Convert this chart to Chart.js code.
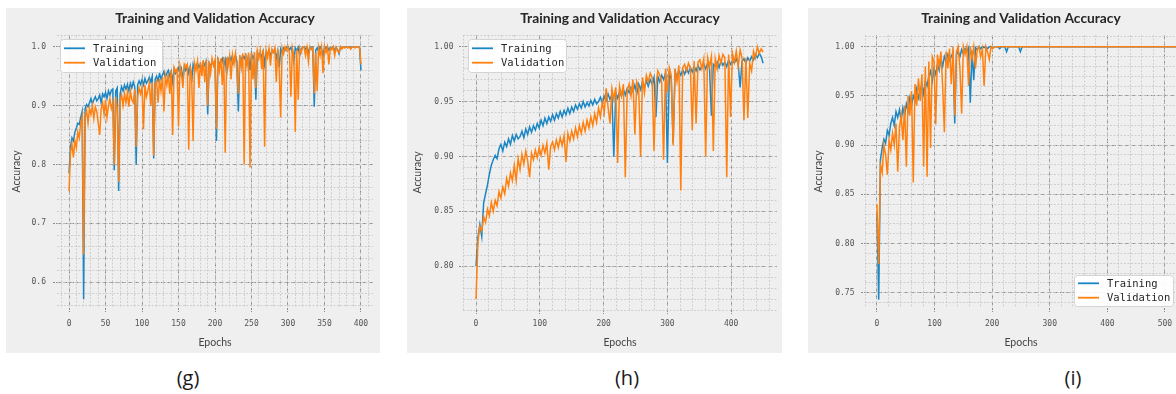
<!DOCTYPE html>
<html>
<head>
<meta charset="utf-8">
<script src="https://cdn.jsdelivr.net/npm/chart.js@4.4.1/dist/chart.umd.min.js"></script>
<style>
  html, body { margin: 0; padding: 0; background: #fff; width: 1176px; height: 394px; overflow: hidden; position: relative; }
  .panel { position: absolute; top: 8px; height: 345px; background: #efefef; overflow: hidden; }
  .panel canvas { position: absolute; left: 0; top: 0; }
  .caption { position: absolute; top: 364px; font-family: "Open Sans", sans-serif; font-size: 20px; line-height: 28px; color: #1a1a1a; transform: translateX(-50%); }
</style>
</head>
<body>
<div class="panel" style="left:6px;width:374px"><canvas id="chartG" width="374" height="345"></canvas></div>
<div class="panel" style="left:407px;width:375px"><canvas id="chartH" width="375" height="345"></canvas></div>
<div class="panel" style="left:808px;width:368px"><canvas id="chartI" width="376" height="345"></canvas></div>
<div class="caption" style="left:188px">(g)</div>
<div class="caption" style="left:627px">(h)</div>
<div class="caption" style="left:1073px">(i)</div>

<script>
// (g) accuracy logged every 2 epochs, 0..400
const gStep = 2;
const gTrain = [
  0.785, 0.830, 0.845, 0.840, 0.855, 0.862, 0.870, 0.868, 0.880, 0.890,
  0.571, 0.895, 0.902, 0.898, 0.905, 0.912, 0.903, 0.910, 0.915, 0.908,
  0.912, 0.918, 0.905, 0.920, 0.915, 0.922, 0.912, 0.925, 0.918, 0.926,
  0.928, 0.790, 0.925, 0.930, 0.755, 0.920, 0.932, 0.925, 0.935, 0.928,
  0.936, 0.925, 0.938, 0.930, 0.940, 0.932, 0.800, 0.935, 0.942, 0.936,
  0.944, 0.935, 0.946, 0.938, 0.942, 0.948, 0.940, 0.950, 0.810, 0.945,
  0.950, 0.942, 0.955, 0.945, 0.952, 0.958, 0.948, 0.955, 0.960, 0.950,
  0.958, 0.940, 0.962, 0.955, 0.960, 0.965, 0.952, 0.962, 0.945, 0.966,
  0.960, 0.968, 0.955, 0.966, 0.940, 0.970, 0.962, 0.968, 0.972, 0.965,
  0.970, 0.962, 0.974, 0.968, 0.975, 0.885, 0.972, 0.965, 0.976, 0.970,
  0.975, 0.840, 0.978, 0.970, 0.976, 0.980, 0.968, 0.978, 0.955, 0.980,
  0.975, 0.982, 0.972, 0.980, 0.985, 0.975, 0.890, 0.982, 0.978, 0.985,
  0.980, 0.986, 0.975, 0.984, 0.960, 0.988, 0.980, 0.986, 0.910, 0.990,
  0.985, 0.990, 0.982, 0.992, 0.970, 0.990, 0.988, 0.994, 0.985, 0.992,
  0.990, 0.995, 0.980, 0.993, 0.965, 0.996, 0.990, 0.998, 0.994, 0.999,
  1.000, 0.995, 0.999, 0.990, 0.975, 0.998, 0.993, 0.999, 0.985, 0.996,
  0.999, 1.000, 0.996, 0.999, 0.990, 1.000, 0.997, 0.999, 0.898, 0.994,
  0.998, 0.992, 1.000, 0.996, 0.985, 0.999, 0.997, 1.000, 0.994, 0.999,
  0.997, 1.000, 0.993, 0.999, 0.995, 0.988, 1.000, 0.998, 1.000, 0.999,
  1.000, 0.999, 1.000, 0.998, 1.000, 1.000, 0.999, 1.000, 1.000, 0.999,
  0.960
];
const gVal = [
  0.755, 0.820, 0.835, 0.812, 0.840, 0.828, 0.855, 0.845, 0.870, 0.882,
  0.647, 0.880, 0.892, 0.870, 0.895, 0.885, 0.900, 0.878, 0.898, 0.890,
  0.870, 0.850, 0.895, 0.905, 0.885, 0.910, 0.880, 0.900, 0.912, 0.895,
  0.905, 0.800, 0.915, 0.895, 0.770, 0.908, 0.918, 0.900, 0.920, 0.905,
  0.922, 0.898, 0.925, 0.910, 0.905, 0.928, 0.830, 0.915, 0.930, 0.920,
  0.932, 0.860, 0.935, 0.915, 0.925, 0.938, 0.900, 0.940, 0.815, 0.935,
  0.942, 0.905, 0.945, 0.925, 0.948, 0.890, 0.950, 0.935, 0.955, 0.920,
  0.960, 0.850, 0.965, 0.958, 0.962, 0.865, 0.968, 0.955, 0.930, 0.970,
  0.965, 0.970, 0.825, 0.968, 0.950, 0.840, 0.972, 0.960, 0.975, 0.930,
  0.974, 0.950, 0.977, 0.940, 0.978, 0.900, 0.975, 0.955, 0.980, 0.968,
  0.978, 0.860, 0.982, 0.960, 0.980, 0.935, 0.983, 0.820, 0.982, 0.968,
  0.984, 0.945, 0.986, 0.970, 0.988, 0.958, 0.920, 0.986, 0.965, 0.989,
  0.800, 0.989, 0.968, 0.990, 0.795, 0.990, 0.945, 0.991, 0.930, 0.993,
  0.980, 0.994, 0.962, 0.995, 0.830, 0.994, 0.982, 0.997, 0.968, 0.996,
  0.990, 0.998, 0.940, 0.996, 0.960, 0.880, 0.998, 0.988, 1.000, 0.994,
  1.000, 0.990, 0.915, 0.998, 0.985, 0.855, 0.995, 0.910, 0.998, 0.990,
  0.999, 1.000, 0.985, 0.999, 0.975, 1.000, 0.995, 0.998, 0.920, 0.990,
  0.925, 0.998, 0.985, 1.000, 0.955, 0.999, 0.990, 1.000, 0.970, 0.998,
  0.995, 1.000, 0.985, 0.999, 0.993, 0.990, 1.000, 0.996, 1.000, 0.998,
  1.000, 0.998, 1.000, 0.996, 1.000, 1.000, 0.998, 1.000, 1.000, 0.999,
  0.970
];

// (h) accuracy logged every 3 epochs, 0..450
const hStep = 3;
const hTrain = [
  0.800, 0.826, 0.838, 0.827, 0.858, 0.866, 0.874, 0.884, 0.892, 0.897,
  0.901, 0.898, 0.907, 0.911, 0.905, 0.913, 0.909, 0.916, 0.911, 0.919,
  0.914, 0.920, 0.916, 0.918, 0.923, 0.917, 0.925, 0.920, 0.927, 0.922,
  0.928, 0.924, 0.930, 0.926, 0.933, 0.928, 0.935, 0.930, 0.936, 0.932,
  0.938, 0.933, 0.939, 0.935, 0.941, 0.936, 0.942, 0.938, 0.944, 0.939,
  0.945, 0.941, 0.947, 0.943, 0.948, 0.944, 0.950, 0.945, 0.949, 0.946,
  0.951, 0.947, 0.952, 0.948, 0.950, 0.954, 0.949, 0.955, 0.951, 0.957,
  0.952, 0.956, 0.900, 0.958, 0.953, 0.959, 0.955, 0.961, 0.956, 0.962,
  0.958, 0.963, 0.959, 0.965, 0.957, 0.966, 0.961, 0.968, 0.963, 0.969,
  0.964, 0.970, 0.966, 0.972, 0.936, 0.973, 0.968, 0.974, 0.970, 0.976,
  0.894, 0.975, 0.971, 0.912, 0.977, 0.973, 0.978, 0.974, 0.979, 0.975,
  0.980, 0.976, 0.981, 0.977, 0.982, 0.978, 0.983, 0.979, 0.982, 0.984,
  0.980, 0.985, 0.981, 0.937, 0.984, 0.982, 0.986, 0.981, 0.987, 0.983,
  0.986, 0.982, 0.988, 0.984, 0.987, 0.985, 0.989, 0.984, 0.963, 0.987,
  0.989, 0.985, 0.990, 0.987, 0.991, 0.988, 0.993, 0.990, 0.994, 0.991,
  0.985
];
const hVal = [
  0.770, 0.822, 0.836, 0.832, 0.845, 0.840, 0.852, 0.846, 0.858, 0.850,
  0.860, 0.855, 0.868, 0.862, 0.872, 0.866, 0.880, 0.873, 0.885, 0.878,
  0.892, 0.878, 0.898, 0.888, 0.902, 0.893, 0.905, 0.896, 0.881, 0.903,
  0.897, 0.906, 0.899, 0.908, 0.901, 0.910, 0.903, 0.912, 0.888, 0.909,
  0.913, 0.906, 0.915, 0.908, 0.917, 0.910, 0.919, 0.895, 0.921, 0.914,
  0.923, 0.916, 0.926, 0.918, 0.928, 0.921, 0.931, 0.923, 0.933, 0.926,
  0.936, 0.928, 0.939, 0.931, 0.944, 0.936, 0.950, 0.940, 0.962, 0.945,
  0.930, 0.962, 0.952, 0.963, 0.894, 0.964, 0.955, 0.966, 0.881, 0.960,
  0.966, 0.955, 0.970, 0.920, 0.968, 0.962, 0.900, 0.972, 0.958, 0.974,
  0.968, 0.976, 0.972, 0.905, 0.965, 0.978, 0.974, 0.968, 0.897, 0.980,
  0.958, 0.981, 0.974, 0.910, 0.980, 0.968, 0.983, 0.869, 0.981, 0.984,
  0.978, 0.985, 0.981, 0.924, 0.987, 0.930, 0.986, 0.988, 0.980, 0.989,
  0.900, 0.990, 0.982, 0.991, 0.905, 0.989, 0.980, 0.992, 0.985, 0.993,
  0.990, 0.881, 0.993, 0.936, 0.994, 0.986, 0.996, 0.982, 0.997, 0.990,
  0.933, 0.990, 0.935, 0.985, 0.978, 0.996, 0.990, 1.000, 0.994, 0.998,
  0.995
];

// (i) accuracy logged every 3 epochs, 0..519
const iStep = 3;
const iTrain = [
  0.830, 0.743, 0.885, 0.897, 0.906, 0.902, 0.915, 0.910, 0.922, 0.928,
  0.920, 0.934, 0.928, 0.936, 0.925, 0.938, 0.930, 0.942, 0.935, 0.948,
  0.940, 0.950, 0.945, 0.957, 0.948, 0.955, 0.962, 0.952, 0.965, 0.960,
  0.970, 0.975, 0.965, 0.978, 0.972, 0.982, 0.976, 0.988, 0.980, 0.990,
  0.985, 0.992, 0.986, 0.990, 0.994, 0.922, 0.992, 0.995, 0.990, 0.997,
  0.993, 0.998, 0.995, 0.999, 0.943, 0.996, 0.966, 0.999, 0.997, 1.000,
  0.998, 1.000, 0.999, 1.000, 0.998, 1.000, 1.000, 0.999, 1.000, 1.000,
  1.000, 0.998, 1.000, 1.000, 1.000, 0.995, 1.000, 1.000, 1.000, 1.000,
  1.000, 1.000, 1.000, 0.995, 1.000, 1.000, 1.000, 1.000, 1.000, 1.000,
  1.000, 1.000, 1.000, 1.000, 1.000, 1.000, 1.000, 1.000, 1.000, 1.000,
  1.000, 1.000, 1.000, 1.000, 1.000, 1.000, 1.000, 1.000, 1.000, 1.000,
  1.000, 1.000, 1.000, 1.000, 1.000, 1.000, 1.000, 1.000, 1.000, 1.000,
  1.000, 1.000, 1.000, 1.000, 1.000, 1.000, 1.000, 1.000, 1.000, 1.000,
  1.000, 1.000, 1.000, 1.000, 1.000, 1.000, 1.000, 1.000, 1.000, 1.000,
  1.000, 1.000, 1.000, 1.000, 1.000, 1.000, 1.000, 1.000, 1.000, 1.000,
  1.000, 1.000, 1.000, 1.000, 1.000, 1.000, 1.000, 1.000, 1.000, 1.000,
  1.000, 1.000, 1.000, 1.000, 1.000, 1.000, 1.000, 1.000, 1.000, 1.000,
  1.000, 1.000, 1.000, 1.000
];
const iVal = [
  0.840, 0.779, 0.880, 0.872, 0.900, 0.890, 0.870, 0.905, 0.895, 0.912,
  0.900, 0.922, 0.873, 0.918, 0.930, 0.905, 0.940, 0.878, 0.950, 0.930,
  0.955, 0.862, 0.962, 0.940, 0.968, 0.945, 0.972, 0.878, 0.980, 0.868,
  0.985, 0.897, 0.990, 0.985, 0.921, 0.992, 0.980, 0.995, 0.960, 0.913,
  0.995, 0.978, 0.998, 0.962, 1.000, 0.930, 0.995, 1.000, 0.978, 0.932,
  1.000, 0.992, 1.000, 0.960, 1.000, 0.988, 1.000, 0.978, 0.997, 1.000,
  0.990, 0.998, 0.960, 1.000, 0.995, 0.987, 1.000, 0.998, 1.000, 1.000,
  1.000, 1.000, 1.000, 1.000, 1.000, 1.000, 1.000, 1.000, 1.000, 1.000,
  1.000, 1.000, 1.000, 1.000, 1.000, 1.000, 1.000, 1.000, 1.000, 1.000,
  1.000, 1.000, 1.000, 1.000, 1.000, 1.000, 1.000, 1.000, 1.000, 1.000,
  1.000, 1.000, 1.000, 1.000, 1.000, 1.000, 1.000, 1.000, 1.000, 1.000,
  1.000, 1.000, 1.000, 1.000, 1.000, 1.000, 1.000, 1.000, 1.000, 1.000,
  1.000, 1.000, 1.000, 1.000, 1.000, 1.000, 1.000, 1.000, 1.000, 1.000,
  1.000, 1.000, 1.000, 1.000, 1.000, 1.000, 1.000, 1.000, 1.000, 1.000,
  1.000, 1.000, 1.000, 1.000, 1.000, 1.000, 1.000, 1.000, 1.000, 1.000,
  1.000, 1.000, 1.000, 1.000, 1.000, 1.000, 1.000, 1.000, 1.000, 1.000,
  1.000, 1.000, 1.000, 1.000, 1.000, 1.000, 1.000, 1.000, 1.000, 1.000,
  1.000, 1.000, 1.000, 1.000
];

// tick values per panel
const gXTicks = [0, 50, 100, 150, 200, 250, 300, 350, 400];
const gYTicks = [0.6, 0.7, 0.8, 0.9, 1.0];
const hXTicks = [0, 100, 200, 300, 400];
const hYTicks = [0.80, 0.85, 0.90, 0.95, 1.00];
const iXTicks = [0, 100, 200, 300, 400, 500];
const iYTicks = [0.75, 0.80, 0.85, 0.90, 0.95, 1.00];

const seriesLabels = ['Training', 'Validation'];
const titleText = 'Training and Validation Accuracy';

const BLUE = '#1b86c4';
const ORANGE = '#ff800e';
const MAJOR_GRID = '#8c8c8c';
const MINOR_GRID = '#c6c6c6';
const TICK_FONT = { family: 'DejaVu Sans Mono', size: 8 };
const AXIS_FONT = { family: 'Lato', size: 10.5 };

function toPoints(values, step) {
    return values.map((v, i) => ({ x: i * step, y: v }));
}

const panelTitle = {
    id: 'panelTitle',
    afterDraw(chart) {
        const { ctx, chartArea } = chart;
        ctx.save();
        ctx.font = '700 13.8px Lato';
        ctx.fillStyle = '#262626';
        ctx.textAlign = 'center';
        ctx.textBaseline = 'middle';
        ctx.fillText(titleText, (chartArea.left + chartArea.right) / 2, 10.5);
        ctx.restore();
    }
};

const boxLegend = {
    id: 'boxLegend',
    afterDraw(chart, args, opts) {
        const { ctx, chartArea } = chart;
        const w = opts.w, h = opts.h;
        const left = opts.corner === 'bottom-right' ? chartArea.right - opts.dx - w : chartArea.left + opts.dx;
        const top = opts.corner === 'bottom-right' ? chartArea.bottom - opts.dy - h : chartArea.top + opts.dy;

        ctx.save();
        ctx.fillStyle = 'rgba(255,255,255,0.9)';
        ctx.strokeStyle = '#d4d4d4';
        ctx.lineWidth = 1;
        ctx.beginPath();
        ctx.roundRect(Math.round(left) + 0.5, Math.round(top) + 0.5, w, h, 3);
        ctx.fill();
        ctx.stroke();

        ctx.font = '10.5px "DejaVu Sans Mono"';
        ctx.textBaseline = 'middle';
        chart.data.datasets.forEach((ds, i) => {
            const y = top + h / 2 + (i === 0 ? -7.2 : 7.2);
            ctx.strokeStyle = ds.borderColor;
            ctx.lineWidth = 1.8;
            ctx.beginPath();
            ctx.moveTo(left + 4, y);
            ctx.lineTo(left + 25, y);
            ctx.stroke();
            ctx.fillStyle = '#262626';
            ctx.fillText(ds.label, left + 33, y + 0.5);
        });
        ctx.restore();
    }
};

function buildScales(p) {
    return {
        x: {
            type: 'linear',
            min: p.xMin,
            max: p.xMax,
            afterBuildTicks: s => { s.ticks = p.xTicks.map(v => ({ value: v })); },
            afterFit: s => { s.height = p.xAxisH; },
            ticks: { font: TICK_FONT, color: '#555', padding: p.xPad, autoSkip: false, maxRotation: 0, callback: v => String(v) },
            grid: { color: MAJOR_GRID, lineWidth: 1, tickLength: 4, tickColor: MAJOR_GRID, tickBorderDash: [2, 1] },
            border: { display: false, dash: [4, 2.5] },
            title: { display: true, text: 'Epochs', font: AXIS_FONT, color: '#444', padding: { top: 4, bottom: 4 } }
        },
        y: {
            type: 'linear',
            min: p.yMin,
            max: p.yMax,
            afterBuildTicks: s => { s.ticks = p.yTicks.map(v => ({ value: v })); },
            afterFit: s => { s.width = p.yAxisW; },
            ticks: { font: TICK_FONT, color: '#555', padding: p.yPad, autoSkip: false, callback: v => v.toFixed(p.yDigits) },
            grid: { color: MAJOR_GRID, lineWidth: 1, tickLength: 4, tickColor: MAJOR_GRID, tickBorderDash: [2, 1] },
            border: { display: false, dash: [4, 2.5] },
            title: { display: true, text: 'Accuracy', font: AXIS_FONT, color: '#444', padding: { top: 4, bottom: 4 } }
        },
        xMinor: {
            type: 'linear',
            position: 'bottom',
            min: p.xMin,
            max: p.xMax,
            afterFit: s => { s.height = 0; },
            ticks: { display: false, stepSize: p.xMinorStep, includeBounds: false },
            grid: { color: MINOR_GRID, lineWidth: 0.8, drawTicks: false },
            border: { display: false, dash: [2, 1.5] }
        },
        yMinor: {
            type: 'linear',
            position: 'left',
            min: p.yMin,
            max: p.yMax,
            afterFit: s => { s.width = 0; },
            ticks: { display: false, stepSize: p.yMinorStep, includeBounds: false },
            grid: { color: MINOR_GRID, lineWidth: 0.8, drawTicks: false },
            border: { display: false, dash: [2, 1.5] }
        }
    };
}

function createAccuracyChart(canvasId, train, val, step, p) {
    const ctx = document.getElementById(canvasId).getContext('2d');
    new Chart(ctx, {
        type: 'line',
        data: {
            datasets: [
                { label: seriesLabels[0], data: toPoints(train, step), borderColor: BLUE, order: 1 },
                { label: seriesLabels[1], data: toPoints(val, step), borderColor: ORANGE, order: 0 }
            ]
        },
        options: {
            responsive: false,
            animation: false,
            layout: { padding: { top: 27, right: p.rightPad, left: 0, bottom: 0 } },
            elements: {
                point: { radius: 0 },
                line: { tension: 0, borderWidth: 1.5, fill: false }
            },
            scales: buildScales(p),
            plugins: {
                legend: { display: false },
                tooltip: { enabled: false },
                boxLegend: p.legend
            }
        },
        plugins: [panelTitle, boxLegend]
    });
}

createAccuracyChart('chartG', gTrain, gVal, gStep, {
    xMin: -16.5, xMax: 416.5, yMin: 0.556, yMax: 1.02,
    xTicks: gXTicks, yTicks: gYTicks, yDigits: 1,
    xMinorStep: 10, yMinorStep: 0.02,
    yAxisW: 51, xAxisH: 45, rightPad: 7, xPad: 7, yPad: 7,
    legend: { corner: 'top-left', dx: 3, dy: 4, w: 102, h: 33 }
});

createAccuracyChart('chartH', hTrain, hVal, hStep, {
    xMin: -20.4, xMax: 471.8, yMin: 0.76, yMax: 1.0107,
    xTicks: hXTicks, yTicks: hYTicks, yDigits: 2,
    xMinorStep: 20, yMinorStep: 0.01,
    yAxisW: 56, xAxisH: 43, rightPad: 5, xPad: 5, yPad: 5.5,
    legend: { corner: 'top-left', dx: 5, dy: 4, w: 98, h: 33 }
});

createAccuracyChart('chartI', iTrain, iVal, iStep, {
    xMin: -20.8, xMax: 520.9, yMin: 0.7345, yMax: 1.0119,
    xTicks: iXTicks, yTicks: iYTicks, yDigits: 2,
    xMinorStep: 20, yMinorStep: 0.01,
    yAxisW: 57, xAxisH: 45, rightPad: 7, xPad: 7, yPad: 6.5,
    legend: { corner: 'bottom-right', dx: 4, dy: 2, w: 99, h: 31 }
});
</script>
</body>
</html>
